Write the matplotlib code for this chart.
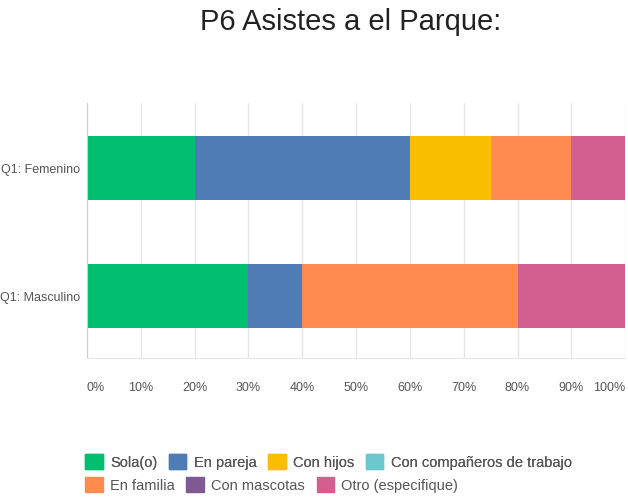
import matplotlib.pyplot as plt
from matplotlib.patches import Patch

groups = ["Q1: Femenino", "Q1: Masculino"]
options = ["Sola(o)", "En pareja", "Con hijos", "Con compañeros de trabajo",
           "En familia", "Con mascotas", "Otro (especifique)"]
colors = ["#00BF6F", "#507CB6", "#F9BE00", "#6BC8CD", "#FF8B4F", "#7D5A94", "#D25F90"]

sola = [20, 30]
pareja = [40, 10]
hijos = [15, 0]
companeros = [0, 0]
familia = [15, 40]
mascotas = [0, 0]
otro = [10, 20]
values = [sola, pareja, hijos, companeros, familia, mascotas, otro]

ticks = [0, 10, 20, 30, 40, 50, 60, 70, 80, 90, 100]
tick_labels = [f"{t}%" for t in ticks]

plt.rcParams['font.family'] = ['Liberation Sans', 'DejaVu Sans']

fig = plt.figure(figsize=(6.28, 5.0), dpi=100)
ax = fig.add_axes([0.1385, 0.284, 0.857, 0.51])

ypos = list(range(len(groups)))
left = [0] * len(groups)
for vals, col in zip(values, colors):
    ax.barh(ypos, vals, left=left, height=0.5, color=col, zorder=2)
    left = [a + b for a, b in zip(left, vals)]

ax.set_xlim(0, 100)
ax.set_ylim(1.484, -0.508)
ax.set_xticks(ticks)
ax.set_xticklabels(tick_labels)
ax.set_yticks(ypos)
ax.set_yticklabels(groups)
ax.tick_params(axis='x', length=0, pad=17, labelsize=9, labelcolor='#555555')
ax.tick_params(axis='y', length=0, pad=5, labelsize=9, labelcolor='#555555')
xl = ax.get_xticklabels()
xl[0].set_ha('left')
xl[-1].set_ha('right')
ax.grid(axis='x', color='#e6e6e6', linewidth=1, zorder=0)
for s in ['top', 'right']:
    ax.spines[s].set_visible(False)
ax.spines['left'].set_color('#cccccc')
ax.spines['bottom'].set_color('#e6e6e6')

fig.text(0.559, 0.955, "P6 Asistes a el Parque:", ha='center', va='center',
         fontsize=21, color='#222222')

handles = [Patch(facecolor=c, edgecolor=c) for c in colors]
row1 = fig.legend(handles[:4], options[:4], loc='center left', bbox_to_anchor=(0.124, 0.076),
                  ncol=4, frameon=False, fontsize=10.5, handlelength=1.2, handleheight=1.2,
                  handletextpad=0.5, columnspacing=0.8, borderpad=0, labelcolor='#555555')
fig.add_artist(row1)
fig.legend(handles[4:], options[4:], loc='center left', bbox_to_anchor=(0.124, 0.030),
           ncol=3, frameon=False, fontsize=10.5, handlelength=1.2, handleheight=1.2,
           handletextpad=0.5, columnspacing=0.8, borderpad=0, labelcolor='#555555')

fig.savefig("out.png", dpi=100)
